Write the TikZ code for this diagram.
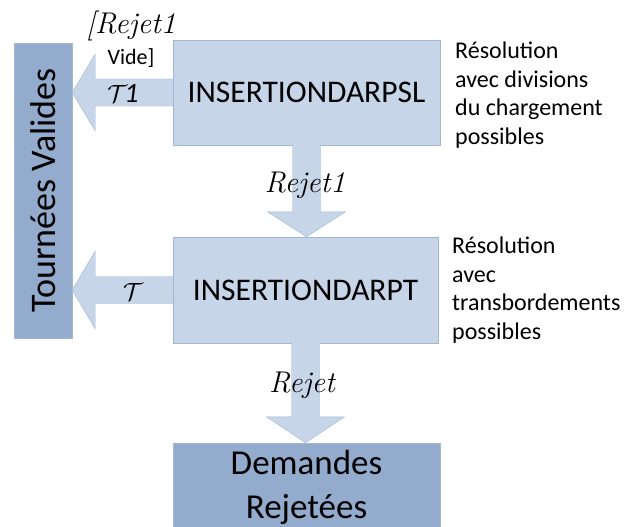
\documentclass[tikz,border=0pt]{standalone}
\usepackage{fontspec}
\setmainfont{Carlito}
\newfontfamily\lmfont{Latin Modern Roman}
\usetikzlibrary{calc}
\definecolor{boxlight}{HTML}{C6D5E8}
\definecolor{boxdark}{HTML}{93ABCC}
\definecolor{boxline}{HTML}{A2B7D4}

\begin{document}
\begin{tikzpicture}[x=1pt,y=-1pt]
\tikzset{block/.style={draw=boxline,fill=boxlight,inner sep=0pt,minimum width=267pt,minimum height=105pt,font=\fontsize{31.5}{31.5}\selectfont},
  store/.style={draw=boxline,fill=boxdark,inner sep=0pt,align=center,font=\fontsize{35}{44}\selectfont},
  flow/.style={draw=boxline,fill=boxlight,line join=miter},
  lbl/.style={inner sep=0pt,font=\lmfont\itshape\fontsize{30}{30}\selectfont},
  note/.style={anchor=north west,align=left,inner sep=0pt,font=\fontsize{24}{28.5}\selectfont}}
\useasboundingbox (0,0) rectangle (624,527);
\clip (0,0) rectangle (624,527);

\node[store,rotate=90,minimum width=295pt,minimum height=58pt,font=\fontsize{36}{36}\selectfont] (valides) at (43,190.5) {Tournées Valides};
\node[block] (psl) at (306.5,92.5) {INSERTIONDARPSL};
\node[block,minimum width=265pt,minimum height=106pt] (pt) at (305.5,290) {INSERTIONDARPT};
\node[store,minimum width=267pt,minimum height=88pt] (dem) at (306.5,487) {Demandes\\Rejetées};

% fleches vers les tournees
\draw[flow] ($(psl.west)+(0,-13.5)$) -- ($(valides.south|-psl.west)+(23,-13.5)$) -- ($(valides.south|-psl.west)+(23,-38.5)$)
  -- (valides.south|-psl.west) -- ($(valides.south|-psl.west)+(23,38.5)$) -- ($(valides.south|-psl.west)+(23,13.5)$) -- ($(psl.west)+(0,13.5)$);
\draw[flow] ($(pt.west)+(0,-13.5)$) -- ($(valides.south|-pt.west)+(23,-13.5)$) -- ($(valides.south|-pt.west)+(23,-39)$)
  -- (valides.south|-pt.west) -- ($(valides.south|-pt.west)+(23,39)$) -- ($(valides.south|-pt.west)+(23,13.5)$) -- ($(pt.west)+(0,13.5)$);
% rejets
\draw[flow] ($(psl.south)+(-14,0)$) -- ($(psl.south|-pt.north)+(-14,-25)$) -- ($(psl.south|-pt.north)+(-39,-25)$)
  -- (psl.south|-pt.north) -- ($(psl.south|-pt.north)+(39,-25)$) -- ($(psl.south|-pt.north)+(14,-25)$) -- ($(psl.south)+(14,0)$);
\draw[flow] ($(pt.south)+(-14,0)$) -- ($(pt.south|-dem.north)+(-14,-26)$) -- ($(pt.south|-dem.north)+(-39,-26)$)
  -- (pt.south|-dem.north) -- ($(pt.south|-dem.north)+(39,-26)$) -- ($(pt.south|-dem.north)+(14,-26)$) -- ($(pt.south)+(14,0)$);

\node[lbl] (vide1) at (131,26) {[Rejet1};
\node[inner sep=0pt,font=\fontsize{22}{22}\selectfont] (vide2) at (131,58) {Vide]};
\node[inner sep=0pt,font=\fontsize{28}{28}\selectfont] (t1) at (123,93) {$\mathcal{T}\mkern-2mu\mathit{1}$};
\node[inner sep=0pt,font=\fontsize{28}{28}\selectfont] (t) at (133,292) {$\mathcal{T}$};
\node[lbl] (rej1) at (305,185) {Rejet1};
\node[lbl] (rej) at (302,385) {Rejet};

\node[note] (n1) at (455,42) {Résolution\\avec divisions\\du chargement\\possibles};
\node[note] (n2) at (452,237) {Résolution\\avec\\transbordements\\possibles};
\end{tikzpicture}
\end{document}
